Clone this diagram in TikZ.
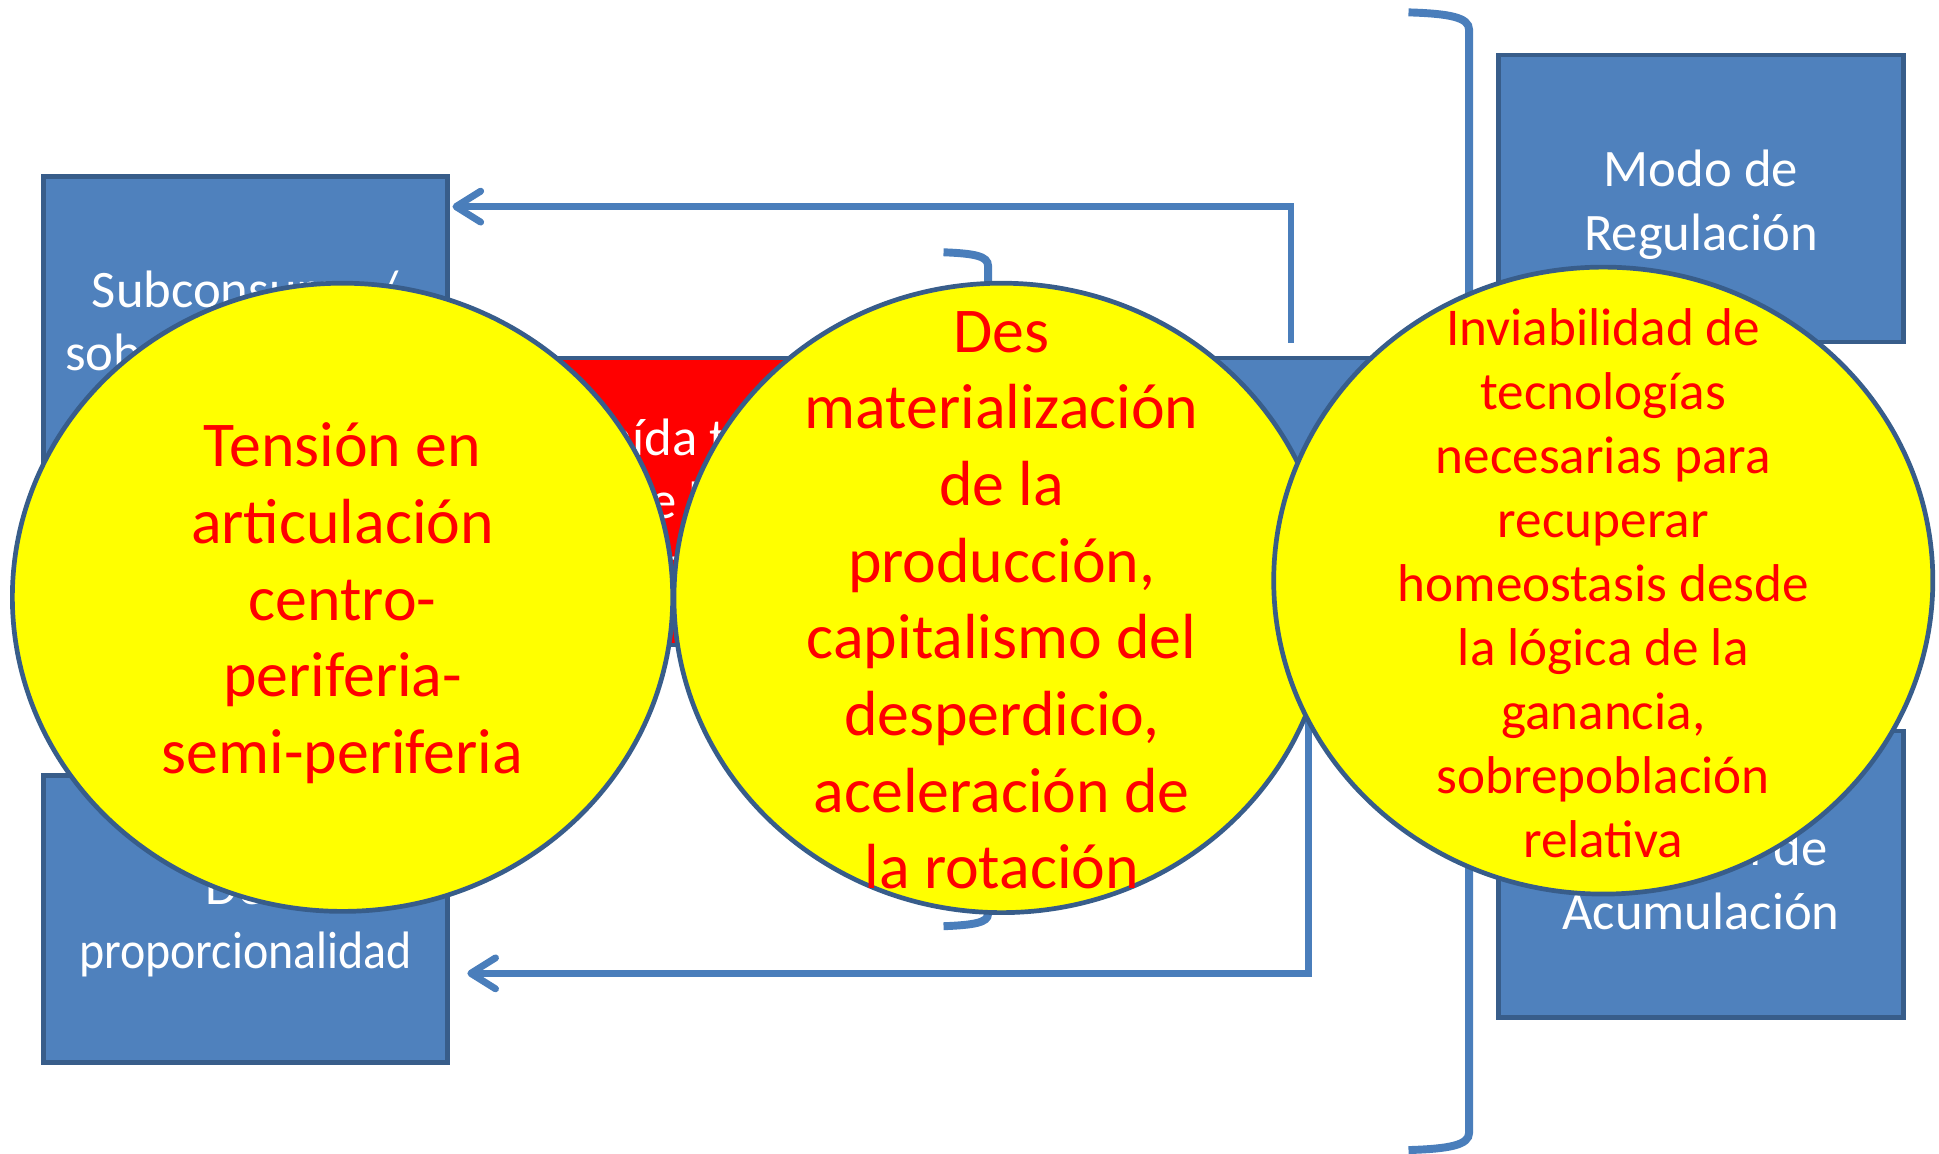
\documentclass[tikz,border=0pt]{standalone}
\usepackage{fontspec}
\setmainfont{Carlito}
\usetikzlibrary{shapes.geometric,arrows.meta,calc}
\definecolor{boxfill}{HTML}{4F81BD}
\definecolor{boxline}{HTML}{385D8A}
\definecolor{conline}{HTML}{4A7EBB}
\definecolor{ovalfill}{HTML}{FFFF00}
\definecolor{ovaltext}{HTML}{FF0000}
\begin{document}
\begin{tikzpicture}[x=0.5pt,y=-0.5pt,
  bx/.style={draw=boxline, line width=1.9pt, fill=boxfill, minimum width=163.5pt, minimum height=116pt, inner sep=0pt},
  bxt/.style={text=white, align=center, inner sep=0pt, font=\fontsize{21.3}{25.6}\selectfont},
  ov/.style={ellipse, draw=boxline, line width=1.9pt, fill=ovalfill, inner sep=0pt},
  ovt/.style={text=ovaltext, align=center, inner sep=0pt},
  conn/.style={draw=conline, line width=2.8pt, -{Straight Barb[length=10pt,width=12.5pt,round]}},
  brk/.style={draw=conline, line width=3.2pt}]
\useasboundingbox (0,0) rectangle (1568,933);
% boxes
\node[bx] (lt) at (198.5,259) {};
\node[bxt] (ltt) at ($(lt)+(0,4)$) {Subconsumo /\\sobreproducción};
\node[bx] (lb) at (198.5,743) {};
\node[bxt] (lbt) at ($(lb)+(0,4)$) {Des\\\scalebox{0.91}[1]{proporcionalidad}};
\node[bx] (rt) at (1375.5,160.5) {};
\node[bxt] (rtt) at ($(rt)+(0,5)$) {Modo de\\Regulación};
\node[bx] (rb) at (1375.5,707) {};
\node[bxt] (rbt) at ($(rb)+(0,4)$) {Régimen de\\Acumulación};
\node[bx, fill=red] (rd) at (612,405.5) {};
\node[bxt] (rdt) at ($(rd)+(0,3)$) {Caída tendencial\\de la tasa de\\ganancia};
\node[bx] (bl) at (1050,405.5) {};
% connectors
\coordinate (ta) at (1044,277);
\draw[conn] (ta) |- ($(lt.north east)+(2,26)$);
\coordinate (ba) at (1058,560);
\draw[conn] (ba) |- ($(lb.north east)+(14,162)$);
% brackets
\draw[brk] (1139,10) .. controls (1172,11) and (1188,14) .. (1188,24) -- (1188,916) .. controls (1188,926) and (1172,929) .. (1139,930);
\draw[brk] (763,204) .. controls (788,205) and (799,207) .. (799,215) -- (799,739) .. controls (799,746) and (788,748) .. (763,749);
% ovals
\node[ov, minimum width=267pt, minimum height=254pt] (c1) at (277,483) {};
\node[ovt, font=\fontsize{25.8}{31}\selectfont] (c1t) at (277,488) {Tensión en\\articulación\\centro-\\periferia-\\semi-periferia};
\node[ov, minimum width=265pt, minimum height=254.5pt] (c2) at (810,483.5) {};
\node[ovt, font=\fontsize{25.8}{31}\selectfont] (c2t) at (810,485.5) {Des\\materialización\\de la\\producción,\\capitalismo del\\desperdicio,\\aceleración de\\la rotación};
\node[ov, minimum width=266.5pt, minimum height=253.5pt] (c3) at (1296.5,469.5) {};
\node[ovt, font=\fontsize{21.5}{25.9}\selectfont] (c3t) at (1296.5,471.5) {Inviabilidad de\\tecnologías\\necesarias para\\recuperar\\homeostasis desde\\la lógica de la\\ganancia,\\sobrepoblación\\relativa};
\end{tikzpicture}
\end{document}
